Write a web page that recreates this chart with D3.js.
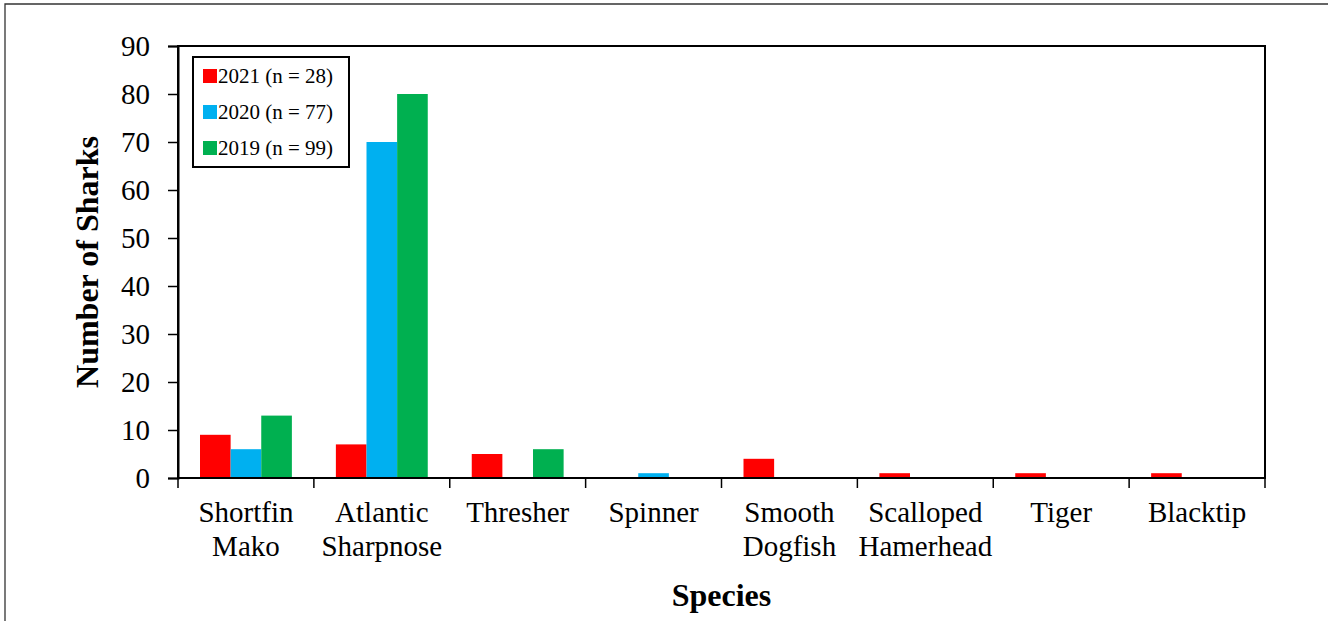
<!DOCTYPE html>
<html><head><meta charset="utf-8">
<script src="https://cdn.jsdelivr.net/npm/d3@7"></script>
<style>body{margin:0;background:#fff}svg{display:block}</style>
</head><body>
<svg id="c" width="1328" height="621"></svg>
<script>
const categories = [["Shortfin","Mako"],["Atlantic","Sharpnose"],["Thresher"],["Spinner"],["Smooth","Dogfish"],["Scalloped","Hamerhead"],["Tiger"],["Blacktip"]];
const seriesNames = ["2021 (n = 28)","2020 (n = 77)","2019 (n = 99)"];
const seriesColors = ["#ff0000","#00b0f0","#00b050"];
const values2021 = [9,7,5,0,4,1,1,1];
const values2020 = [6,70,0,1,0,0,0,0];
const values2019 = [13,80,6,0,0,0,0,0];
const yTicks = [0,10,20,30,40,50,60,70,80,90];
const series = [values2021, values2020, values2019];

const svg = d3.select("#c");
const font = "'Liberation Serif','Times New Roman',serif";
const L = 178, R = 1265, T = 46, B = 478;

svg.append("path").attr("d","M5,621V4H1328").attr("fill","none").attr("stroke","#333").attr("stroke-width",1.3);

const x = d3.scaleBand().domain(d3.range(categories.length)).range([L,R]).paddingInner(0).paddingOuter(0);
const inner = d3.scaleBand().domain(d3.range(3)).range([22, x.bandwidth()-22]);
const y = d3.scaleLinear().domain([0,90]).range([B,T]);

// bars
series.forEach((vals,si)=>{
  svg.append("g").selectAll("rect").data(vals).join("rect")
    .attr("x",(d,i)=>x(i)+inner(si))
    .attr("width",inner.bandwidth())
    .attr("y",d=>y(d))
    .attr("height",d=>B-y(d))
    .attr("fill",seriesColors[si]);
});

// plot frame
svg.append("rect").attr("x",L).attr("y",T).attr("width",R-L).attr("height",B-T)
  .attr("fill","none").attr("stroke","#000").attr("stroke-width",2);

// y axis
const ya = svg.append("g").attr("transform",`translate(${L},0)`)
  .call(d3.axisLeft(y).tickValues(yTicks).tickSize(10).tickPadding(18));
ya.select(".domain").attr("stroke","#000").attr("stroke-width",2);
ya.selectAll(".tick line").attr("stroke","#000").attr("stroke-width",1.5);
ya.selectAll("text").style("font-family",font).style("font-size","29px").attr("fill","#000");

// x axis ticks at boundaries
const bounds = d3.range(categories.length+1).map(i=> i<categories.length ? x(i) : R);
svg.append("g").selectAll("line").data(bounds).join("line")
  .attr("x1",d=>d).attr("x2",d=>d).attr("y1",B).attr("y2",B+10)
  .attr("stroke","#000").attr("stroke-width",1.5);
svg.append("line").attr("x1",L).attr("x2",R).attr("y1",B).attr("y2",B).attr("stroke","#000").attr("stroke-width",2);

// x labels
const xl = svg.append("g").selectAll("text").data(categories).join("text")
  .attr("x",(d,i)=>x(i)+x.bandwidth()/2).attr("y",522)
  .attr("text-anchor","middle").style("font-family",font).style("font-size","29px").attr("fill","#000");
xl.each(function(d){
  const t = d3.select(this);
  d.forEach((line,k)=>t.append("tspan").attr("x",t.attr("x")).attr("dy",k===0?0:34).text(line));
});

// axis titles
svg.append("text").attr("x",(L+R)/2).attr("y",606).attr("text-anchor","middle")
  .style("font-family",font).attr("font-weight","bold").style("font-size","32px").text("Species");
svg.append("text").attr("transform",`translate(98,${(T+B)/2}) rotate(-90)`).attr("text-anchor","middle")
  .style("font-family",font).attr("font-weight","bold").style("font-size","32px").text("Number of Sharks");

// legend
const lg = svg.append("g");
lg.append("rect").attr("x",193).attr("y",57).attr("width",156).attr("height",110)
  .attr("fill","#fff").attr("stroke","#000").attr("stroke-width",2);
seriesNames.forEach((n,i)=>{
  const cy = 76 + i*36;
  lg.append("rect").attr("x",203).attr("y",cy-7).attr("width",14).attr("height",14).attr("fill",seriesColors[i]);
  lg.append("text").attr("x",218).attr("y",cy+7).style("font-family",font).style("font-size","21px").text(n);
});
</script>
</body></html>
